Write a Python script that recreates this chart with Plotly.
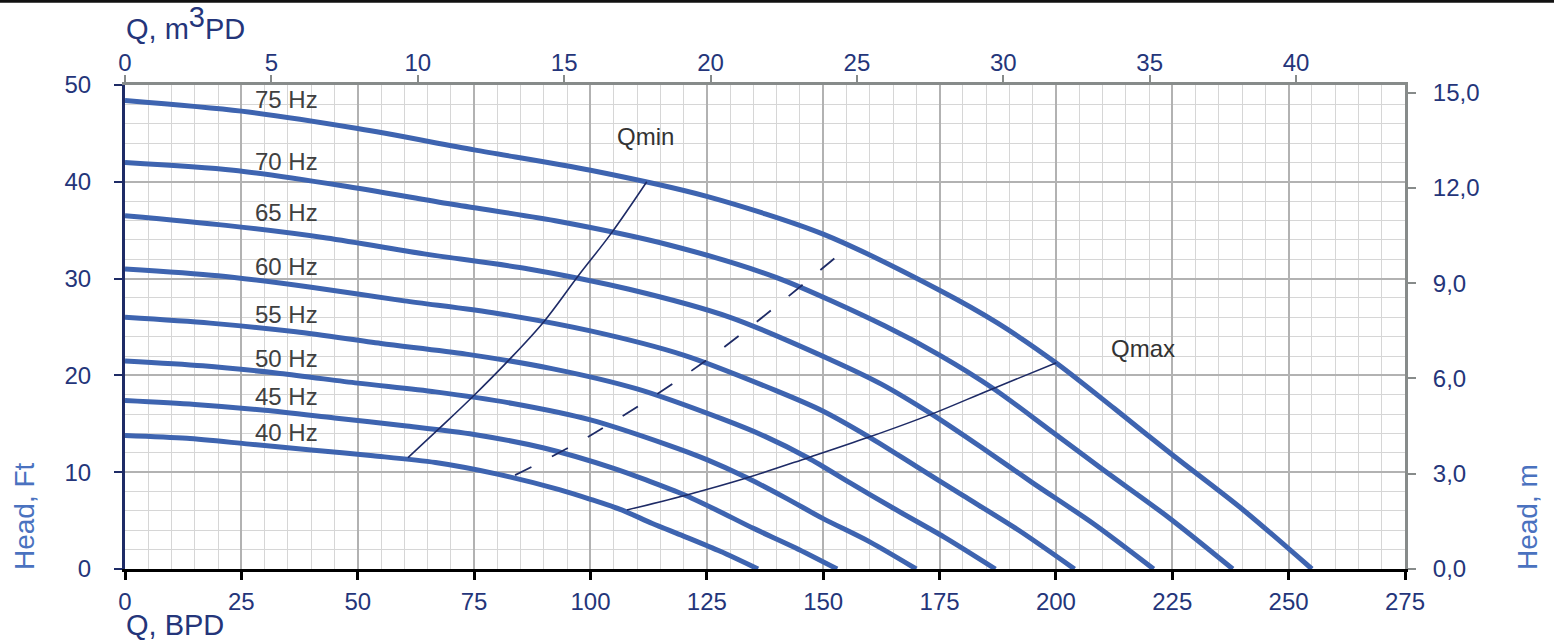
import plotly.graph_objects as go

# ---------------- data ----------------
freq_labels = ["40 Hz", "45 Hz", "50 Hz", "55 Hz", "60 Hz", "65 Hz", "70 Hz", "75 Hz"]

q40 = [0, 13.3, 26.7, 40, 53.3, 66.7, 80, 93.3, 100, 106.7, 113.3, 120, 128, 136]
h40 = [13.8, 13.5, 12.9, 12.3, 11.7, 11.0, 9.8, 8.2, 7.2, 6.1, 4.7, 3.4, 1.8, 0]
q45 = [0, 15, 30, 45, 60, 75, 90, 105, 112.5, 120, 127.5, 135, 144, 153]
h45 = [17.4, 17.0, 16.4, 15.6, 14.8, 13.9, 12.5, 10.4, 9.1, 7.7, 6.0, 4.2, 2.2, 0]
q50 = [0, 16.7, 33.3, 50, 66.7, 83.3, 100, 116.7, 125, 133.3, 141.7, 150, 160, 170]
h50 = [21.5, 21.0, 20.2, 19.2, 18.3, 17.1, 15.4, 12.8, 11.3, 9.5, 7.4, 5.2, 2.8, 0]
q55 = [0, 18.3, 36.7, 55, 73.3, 91.7, 110, 128.3, 137.5, 146.7, 155.8, 165, 176, 187]
h55 = [26.0, 25.4, 24.5, 23.3, 22.2, 20.7, 18.6, 15.5, 13.7, 11.5, 8.9, 6.3, 3.3, 0]
q60 = [0, 20, 40, 60, 80, 100, 120, 140, 150, 160, 170, 180, 192, 204]
h60 = [31.0, 30.3, 29.1, 27.7, 26.4, 24.6, 22.1, 18.4, 16.3, 13.6, 10.6, 7.6, 4.0, 0]
q65 = [0, 21.7, 43.3, 65, 86.7, 108.3, 130, 151.7, 162.5, 173.3, 184.2, 195, 208, 221]
h65 = [36.5, 35.5, 34.2, 32.5, 31.0, 28.9, 26.0, 21.6, 19.1, 16.0, 12.5, 8.9, 4.7, 0]
q70 = [0, 23.3, 46.7, 70, 93.3, 116.7, 140, 163.3, 175, 186.7, 198.3, 210, 224, 238]
h70 = [42.0, 41.2, 39.6, 37.7, 35.9, 33.5, 30.1, 25.1, 22.1, 18.6, 14.5, 10.3, 5.4, 0]
q75 = [0, 25, 50, 75, 100, 125, 150, 175, 187.5, 200, 212.5, 225, 240, 255]
h75 = [48.4, 47.3, 45.5, 43.3, 41.2, 38.5, 34.6, 28.8, 25.4, 21.3, 16.6, 11.8, 6.2, 0]

label_q = [34.8, 34.8, 34.8, 34.8, 34.8, 34.8, 34.8, 34.8]
label_h = [14.1, 17.85, 21.7, 26.3, 31.3, 36.8, 42.1, 48.5]

qmin_q = [60.8, 67.7, 74.8, 82.3, 89.9, 97.4, 104.5, 112.1]
qmin_h = [11.5, 14.6, 17.85, 21.5, 25.5, 30.3, 34.7, 40.0]
qmax_q = [107.8, 120.3, 133.5, 146.8, 159.7, 173.3, 185.8, 200.1]
qmax_h = [6.1, 7.6, 9.4, 11.5, 13.6, 16.0, 18.5, 21.3]
bep_q = [83.8, 100, 125, 152.7]
bep_h = [9.7, 13.8, 21.6, 32.2]

bpd_ticks = [0, 25, 50, 75, 100, 125, 150, 175, 200, 225, 250, 275]
ft_ticks = [0, 10, 20, 30, 40, 50]
m3_ticks = [0, 5, 10, 15, 20, 25, 30, 35, 40]
m_ticks = [0, 3, 6, 9, 12, 15]
m_tick_text = ["0,0", "3,0", "6,0", "9,0", "12,0", "15,0"]

BBL_PER_M3 = 6.28981
M_PER_FT = 0.3048

# ---------------- styling ----------------
FONT = "Liberation Sans, Arial, Helvetica, sans-serif"
CURVE = "#3E64B0"
NAVY = "#24357A"
TITLE_BLUE = "#4A72BF"
LABEL_GRAY = "#404040"
LINE_NAVY = "#1E2B66"
AXIS_GRAY = "#878B8A"

fig = go.Figure()

curves = [(q40, h40), (q45, h45), (q50, h50), (q55, h55),
          (q60, h60), (q65, h65), (q70, h70), (q75, h75)]
for (q, h), name in zip(curves, freq_labels):
    fig.add_trace(go.Scatter(x=q, y=h, mode="lines", name=name,
                             line=dict(color=CURVE, width=5, shape="spline", smoothing=0.8),
                             hoverinfo="skip", showlegend=False))

fig.add_trace(go.Scatter(x=qmin_q, y=qmin_h, mode="lines",
                         line=dict(color=LINE_NAVY, width=1.6, shape="spline"),
                         hoverinfo="skip", showlegend=False))
fig.add_trace(go.Scatter(x=qmax_q, y=qmax_h, mode="lines",
                         line=dict(color=LINE_NAVY, width=1.6, shape="spline"),
                         hoverinfo="skip", showlegend=False))
fig.add_trace(go.Scatter(x=bep_q, y=bep_h, mode="lines",
                         line=dict(color=LINE_NAVY, width=1.8, shape="spline", dash="18px,23px"),
                         hoverinfo="skip", showlegend=False))

# invisible trace to bind the secondary (top / right) axes
fig.add_trace(go.Scatter(x=[0], y=[0], xaxis="x2", yaxis="y2", mode="markers",
                         marker=dict(opacity=0), hoverinfo="skip", showlegend=False))

for txt, q, h in zip(freq_labels, label_q, label_h):
    fig.add_annotation(x=q, y=h, xref="x", yref="y", text=txt, showarrow=False,
                       font=dict(family=FONT, size=24, color=LABEL_GRAY))

fig.add_annotation(x=111.9, y=44.7, xref="x", yref="y", text="Qmin", showarrow=False,
                   font=dict(family=FONT, size=24, color="#333333"))
fig.add_annotation(x=218.7, y=22.8, xref="x", yref="y", text="Qmax", showarrow=False,
                   font=dict(family=FONT, size=24, color="#333333"))

# axis titles
PX_L, PX_R, PX_T, PX_B = 125, 1405, 85, 569


def px_x(px):
    return (px - PX_L) / (PX_R - PX_L)


def px_y(py):
    return (PX_B - py) / (PX_B - PX_T)


fig.add_annotation(x=px_x(124), y=px_y(23), xref="paper", yref="paper",
                   xanchor="left", yanchor="middle", showarrow=False,
                   text="Q, m<sup><span style='font-size:29px'>3</span></sup>PD",
                   font=dict(family=FONT, size=29, color=NAVY))
fig.add_annotation(x=px_x(124), y=px_y(625), xref="paper", yref="paper",
                   xanchor="left", yanchor="middle", showarrow=False,
                   text="Q, BPD", font=dict(family=FONT, size=29, color=NAVY))
fig.add_annotation(x=px_x(24), y=px_y(516), xref="paper", yref="paper",
                   xanchor="center", yanchor="middle",
                   textangle=-90, showarrow=False,
                   text="Head, Ft", font=dict(family=FONT, size=28, color=TITLE_BLUE))
fig.add_annotation(x=px_x(1527), y=px_y(517), xref="paper", yref="paper",
                   xanchor="center", yanchor="middle",
                   textangle=-90, showarrow=False,
                   text="Head, m", font=dict(family=FONT, size=28, color=TITLE_BLUE))

# top black rule
fig.add_shape(type="line", xref="paper", yref="paper",
              x0=px_x(0), x1=px_x(1554), y0=px_y(1.2), y1=px_y(1.2),
              line=dict(color="#111111", width=3))

tickfont = dict(family=FONT, size=24, color=NAVY)

fig.update_layout(
    width=1554, height=643,
    margin=dict(l=PX_L, r=1554 - PX_R, t=PX_T, b=643 - PX_B),
    paper_bgcolor="white", plot_bgcolor="white",
    font=dict(family=FONT),
    showlegend=False,
    xaxis=dict(range=[0, 275], tickvals=bpd_ticks, showgrid=True,
               gridcolor="#B2B2B2", gridwidth=1.5,
               minor=dict(dtick=5, tick0=0, showgrid=True, gridcolor="#D6D6D6", gridwidth=1),
               showline=True, linecolor="#000000", linewidth=3,
               ticks="outside", ticklen=8, tickwidth=3, tickcolor="#000000",
               tickfont=tickfont, ticklabelstandoff=1, zeroline=False, fixedrange=True),
    yaxis=dict(range=[0, 50], tickvals=ft_ticks, showgrid=True,
               gridcolor="#B2B2B2", gridwidth=1.5,
               minor=dict(dtick=2, tick0=0, showgrid=True, gridcolor="#D6D6D6", gridwidth=1),
               showline=True, linecolor=LINE_NAVY, linewidth=3,
               ticks="outside", ticklen=8, tickwidth=2, tickcolor=LINE_NAVY,
               tickfont=tickfont, ticklabelstandoff=18, zeroline=False, fixedrange=True),
    xaxis2=dict(range=[0, 275 / BBL_PER_M3], tickvals=m3_ticks, overlaying="x", side="top",
                anchor="y", showgrid=False, showline=True, linecolor=AXIS_GRAY, linewidth=3,
                ticks="outside", ticklen=7, tickwidth=2, tickcolor=AXIS_GRAY,
                tickfont=tickfont, ticklabelstandoff=-6, zeroline=False, fixedrange=True),
    yaxis2=dict(range=[0, 50 * M_PER_FT], tickvals=m_ticks, ticktext=m_tick_text,
                overlaying="y", side="right", anchor="x", showgrid=False,
                showline=True, linecolor=AXIS_GRAY, linewidth=3,
                ticks="outside", ticklen=8, tickwidth=2, tickcolor=AXIS_GRAY,
                tickfont=tickfont, ticklabelstandoff=12, zeroline=False, fixedrange=True),
)

fig.write_html("out.html", config={"displayModeBar": False},
               post_script="document.body.style.margin='0px';document.body.style.padding='0px';")
